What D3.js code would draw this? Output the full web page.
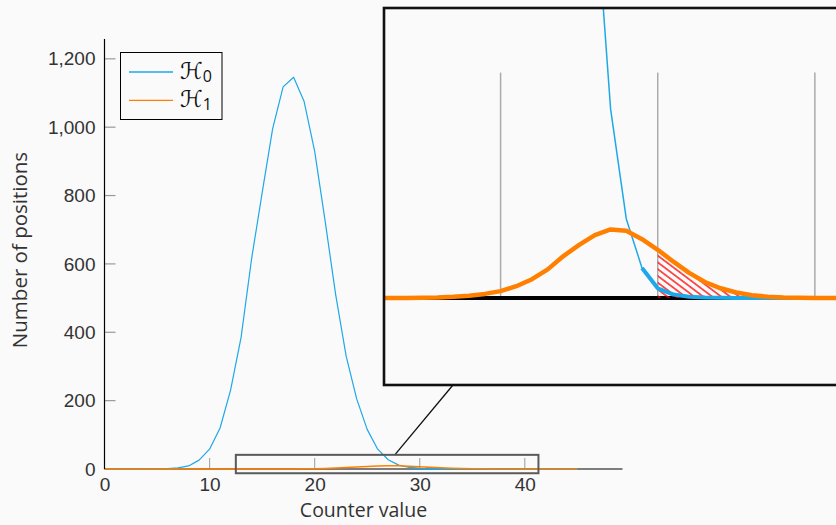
<!DOCTYPE html>
<html>
<head>
<meta charset="utf-8">
<script src="https://cdn.jsdelivr.net/npm/d3@7"></script>
<style>
  body { margin: 0; background: #fafafa; }
  svg { display: block; font-family: "Open Sans", sans-serif; }
  .tick text { fill: #333; font-size: 19px; }
</style>
</head>
<body>
<script>
// counter values 0..45
const counterValues = [0, 1, 2, 3, 4, 5, 6, 7, 8, 9, 10, 11, 12, 13, 14, 15, 16, 17, 18, 19, 20, 21, 22,
  23, 24, 25, 26, 27, 28, 29, 30, 31, 32, 33, 34, 35, 36, 37, 38, 39, 40, 41, 42, 43, 44, 45];
const h0 = [0, 0, 0, 0, 0.1, 0.4, 1.2, 3.5, 9, 26, 58, 120, 231, 385, 615, 807, 995, 1118, 1146, 1075,
  930, 725, 510, 330, 205, 116, 58, 27, 11.3, 4.3, 1.4, 0.5, 0.2, 0.1, 0.05, 0, 0, 0, 0, 0, 0, 0, 0, 0, 0, 0];
const h1 = [0, 0, 0, 0, 0, 0, 0, 0, 0, 0, 0, 0, 0, 0, 0, 0.05, 0.1, 0.2, 0.35, 0.6, 1.0, 1.7, 2.7, 4.1,
  6.0, 7.6, 9.0, 9.8, 9.6, 8.4, 6.9, 5.2, 3.6, 2.3, 1.4, 0.8, 0.4, 0.2, 0.1, 0.05, 0, 0, 0, 0, 0, 0];
const xTicks = [0, 10, 20, 30, 40];
const yTicks = [0, 200, 400, 600, 800, 1000, 1200];
const legendLabels = ["0", "1"];
const threshold = 30;
const tailStart = 29;
const zoomX = [12.5, 41.3];
const zoomY = [-12.4, 41.4];

const blue = "#1ea8e8";
const orange = "#ff8000";
const bg = "#fafafa";

(function chart() {
  let svg = d3.select("body").append("svg").attr("width", 836).attr("height", 525);
  svg.append("rect").attr("width", 836).attr("height", 525).attr("fill", bg);

  let x = d3.scaleLinear().domain([0, 49.3]).range([104.5, 622.5]);
  let y = d3.scaleLinear().domain([0, 1258]).range([469, 39]);
  let tickLen = 11;

  let defs = svg.append("defs");
  let pat = defs
    .append("pattern")
    .attr("id", "hatch")
    .attr("patternUnits", "userSpaceOnUse")
    .attr("width", 10)
    .attr("height", 5.4)
    .attr("patternTransform", "rotate(37)");
  pat
    .append("line")
    .attr("x1", 0)
    .attr("x2", 10)
    .attr("y1", 2.7)
    .attr("y2", 2.7)
    .attr("stroke", "#ff0000")
    .attr("stroke-width", 1.3);

  // draws ticks, axis line, hatch and both series with given scales
  function plotContent(g, sx, sy, opt) {
    g.append("g")
      .selectAll("line")
      .data(xTicks.filter(d => d > 0))
      .enter()
      .append("line")
      .attr("x1", d => sx(d))
      .attr("x2", d => sx(d))
      .attr("y1", sy(0))
      .attr("y2", sy(0) - opt.tick)
      .attr("stroke", "#aaa")
      .attr("stroke-width", opt.tickW);

    g.append("line")
      .attr("x1", sx(0))
      .attr("x2", sx(49.3))
      .attr("y1", sy(0))
      .attr("y2", sy(0))
      .attr("stroke", "black")
      .attr("stroke-width", opt.axisW);

    let idx = counterValues.map((d, i) => i);
    let tail = idx.filter(i => counterValues[i] >= threshold);
    g.append("path")
      .attr("fill", "url(#hatch)")
      .attr(
        "d",
        d3
          .area()
          .x(i => sx(counterValues[i]))
          .y0(sy(0))
          .y1(i => sy(h1[i]))(tail)
      );

    let line = s =>
      d3
        .line()
        .x(i => sx(counterValues[i]))
        .y(i => sy(s[i]));

    g.append("path")
      .attr("fill", "none")
      .attr("stroke", blue)
      .attr("stroke-width", opt.blueW)
      .attr("stroke-linejoin", "round")
      .attr("d", line(h0)(idx));
    g.append("path")
      .attr("fill", "none")
      .attr("stroke", blue)
      .attr("stroke-width", opt.tailW)
      .attr("stroke-linejoin", "round")
      .attr("d", line(h0)(idx.filter(i => counterValues[i] >= tailStart)));
    g.append("path")
      .attr("fill", "none")
      .attr("stroke", orange)
      .attr("stroke-width", opt.orangeW)
      .attr("stroke-linejoin", "round")
      .attr("d", line(h1)(idx));
  }

  // y ticks (inside, grey)
  svg
    .append("g")
    .selectAll("line")
    .data(yTicks.filter(d => d > 0))
    .enter()
    .append("line")
    .attr("x1", x(0))
    .attr("x2", x(0) + tickLen)
    .attr("y1", d => y(d))
    .attr("y2", d => y(d))
    .attr("stroke", "#999")
    .attr("stroke-width", 1.2);

  let main = svg.append("g");
  plotContent(main, x, y, { tick: tickLen, tickW: 1.2, axisW: 1.2, blueW: 1.2, tailW: 1.5, orangeW: 1.5 });

  svg
    .append("line")
    .attr("x1", x(0))
    .attr("x2", x(0))
    .attr("y1", y(0))
    .attr("y2", y(1258))
    .attr("stroke", "black")
    .attr("stroke-width", 1.2);

  svg
    .append("g")
    .attr("transform", `translate(0,${y(0)})`)
    .call(d3.axisBottom(x).tickValues(xTicks).tickSize(0).tickPadding(9))
    .call(g => g.select(".domain").remove());
  svg
    .append("g")
    .attr("transform", `translate(${x(0)},0)`)
    .call(d3.axisLeft(y).tickValues(yTicks).tickFormat(d3.format(",")).tickSize(0).tickPadding(9))
    .call(g => g.select(".domain").remove());

  svg
    .append("text")
    .attr("x", (x.range()[0] + x.range()[1]) / 2)
    .attr("y", 517)
    .attr("text-anchor", "middle")
    .attr("fill", "#333")
    .attr("font-size", 19.5)
    .text("Counter value");
  svg
    .append("text")
    .attr("transform", "translate(27,250) rotate(-90)")
    .attr("text-anchor", "middle")
    .attr("fill", "#333")
    .attr("font-size", 20.5)
    .text("Number of positions");

  // legend
  let leg = svg.append("g");
  leg
    .append("rect")
    .attr("x", 120.5)
    .attr("y", 52.5)
    .attr("width", 101.5)
    .attr("height", 67)
    .attr("fill", bg)
    .attr("stroke", "black");
  [blue, orange].forEach((c, i) => {
    let yy = 72 + i * 28.3;
    leg
      .append("line")
      .attr("x1", 129)
      .attr("x2", 173)
      .attr("y1", yy)
      .attr("y2", yy)
      .attr("stroke", c)
      .attr("stroke-width", 1.3);
    let t = leg
      .append("text")
      .attr("x", 180)
      .attr("y", yy + 7)
      .attr("fill", "#111")
      .attr("font-family", "DejaVu Serif, DejaVu Sans, serif")
      .attr("font-size", 23);
    t.append("tspan").text("\u210B");
    t.append("tspan")
      .attr("font-family", "Open Sans, sans-serif")
      .attr("font-size", 16)
      .attr("dy", 3)
      .text(legendLabels[i]);
  });

  // zoom rectangle in main plot
  let rx0 = x(zoomX[0]),
    rx1 = x(zoomX[1]),
    ry0 = y(zoomY[1]),
    ry1 = y(zoomY[0]);

  // inset
  let inset = { l: 384, t: 8, r: 840, b: 385 };
  let ix = d3.scaleLinear().domain([12.58, 41.6]).range([inset.l, inset.r]);
  let iy = d3.scaleLinear().domain(zoomY).range([inset.b, inset.t]);

  // connector between centres, clipped at both boxes
  let c1 = [(rx0 + rx1) / 2, (ry0 + ry1) / 2];
  let c2 = [(inset.l + 836) / 2, (inset.t + inset.b) / 2];
  let t1 = (ry0 - c1[1]) / (c2[1] - c1[1]);
  let t2 = (inset.b - c1[1]) / (c2[1] - c1[1]);
  svg
    .append("line")
    .attr("x1", c1[0] + t1 * (c2[0] - c1[0]))
    .attr("y1", ry0)
    .attr("x2", c1[0] + t2 * (c2[0] - c1[0]))
    .attr("y2", inset.b)
    .attr("stroke", "#111")
    .attr("stroke-width", 1.3);

  svg
    .append("rect")
    .attr("x", rx0)
    .attr("y", ry0)
    .attr("width", rx1 - rx0)
    .attr("height", ry1 - ry0)
    .attr("fill", "none")
    .attr("stroke", "#5a5a5a")
    .attr("stroke-width", 2);

  defs
    .append("clipPath")
    .attr("id", "insetClip")
    .append("rect")
    .attr("x", inset.l)
    .attr("y", inset.t)
    .attr("width", inset.r - inset.l)
    .attr("height", inset.b - inset.t);

  let ig = svg.append("g").attr("clip-path", "url(#insetClip)");
  ig.append("rect")
    .attr("x", inset.l)
    .attr("y", inset.t)
    .attr("width", inset.r - inset.l)
    .attr("height", inset.b - inset.t)
    .attr("fill", bg);
  plotContent(ig, ix, iy, {
    tick: iy(0) - iy(y.invert(y(0) - tickLen)),
    tickW: 1.5,
    axisW: 4,
    blueW: 1.5,
    tailW: 4,
    orangeW: 4.5
  });

  svg
    .append("rect")
    .attr("x", inset.l)
    .attr("y", inset.t)
    .attr("width", inset.r - inset.l)
    .attr("height", inset.b - inset.t)
    .attr("fill", "none")
    .attr("stroke", "#111")
    .attr("stroke-width", 2.6);
})();
</script>
</body>
</html>
